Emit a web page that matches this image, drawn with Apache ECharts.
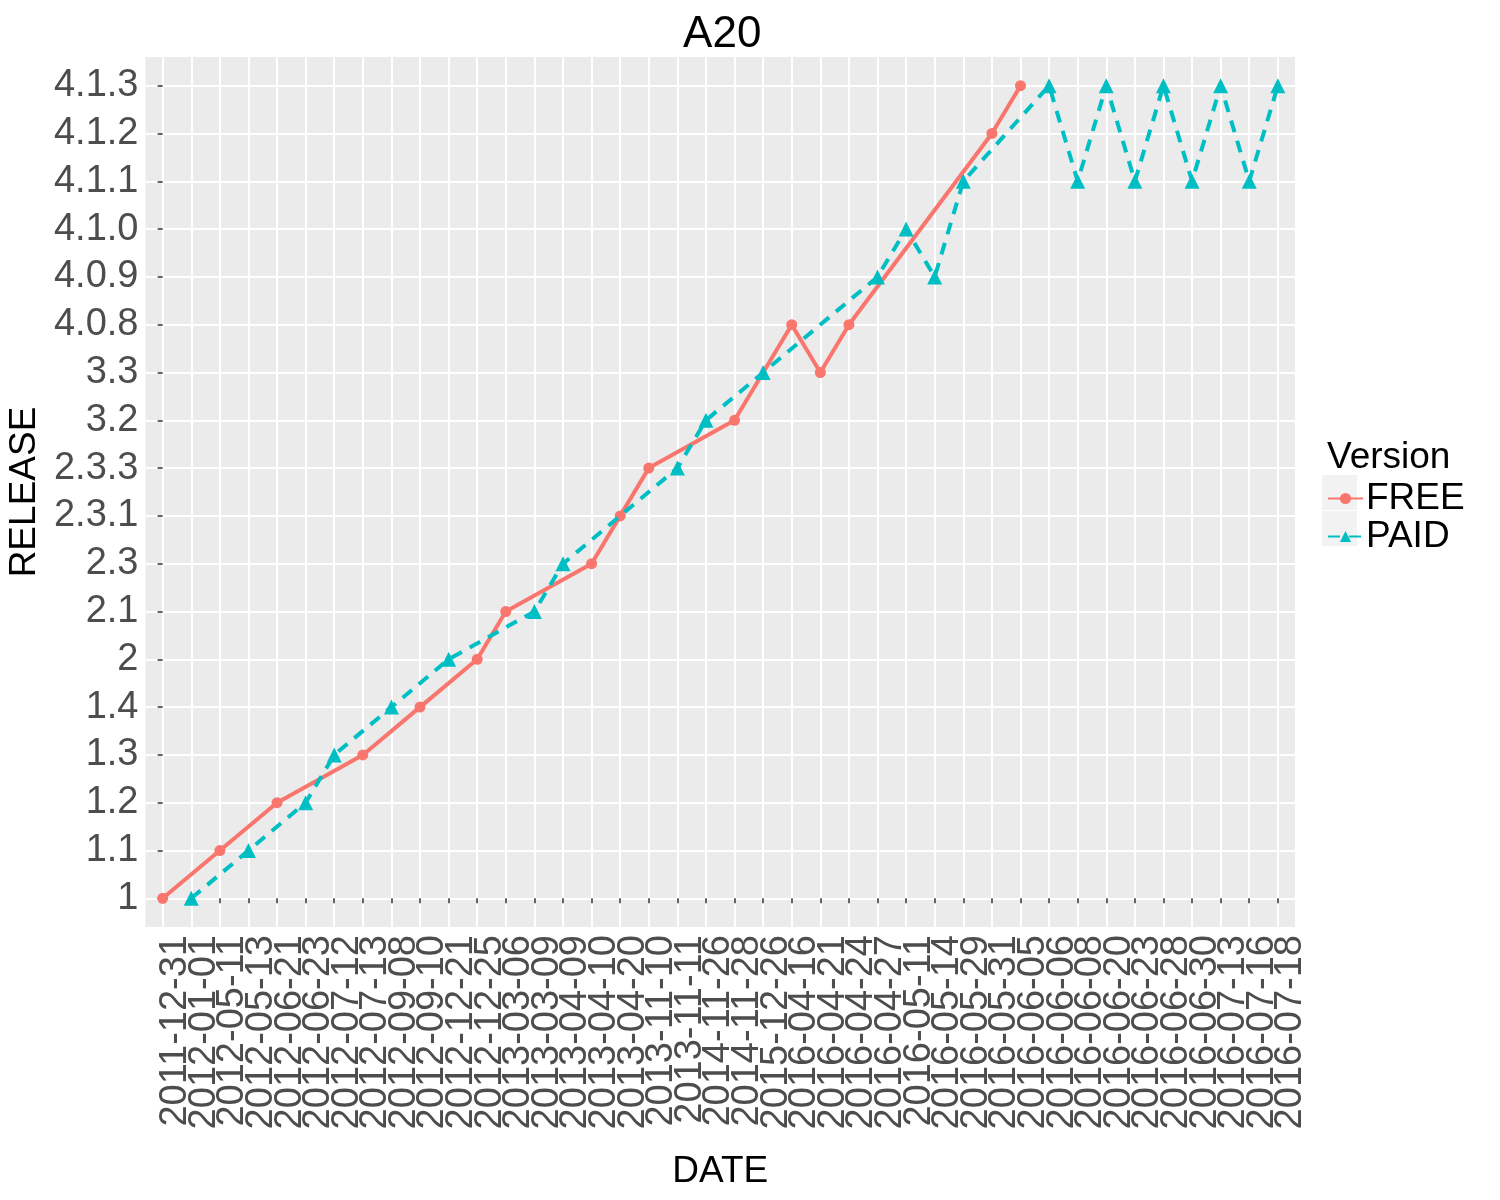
<!DOCTYPE html>
<html>
<head>
<meta charset="utf-8">
<script src="https://cdn.jsdelivr.net/npm/echarts@6/dist/echarts.min.js"></script>
<style>html,body{margin:0;padding:0;background:#fff;}#c{width:1500px;height:1200px;}</style>
</head>
<body>
<div id="c"></div>
<script>
const dates = ['2011-12-31','2012-01-01','2012-05-11','2012-05-13','2012-06-21','2012-06-23','2012-07-12','2012-07-13','2012-09-08','2012-09-10','2012-12-21','2012-12-25','2013-03-06','2013-03-09','2013-04-09','2013-04-10','2013-04-20','2013-11-10','2013-11-11','2014-11-26','2014-11-28','2015-12-26','2016-04-16','2016-04-21','2016-04-24','2016-04-27','2016-05-11','2016-05-14','2016-05-29','2016-05-31','2016-06-05','2016-06-06','2016-06-08','2016-06-20','2016-06-23','2016-06-28','2016-06-30','2016-07-13','2016-07-16','2016-07-18'];
const releases = ['1','1.1','1.2','1.3','1.4','2','2.1','2.3','2.3.1','2.3.3','3.2','3.3','4.0.8','4.0.9','4.1.0','4.1.1','4.1.2','4.1.3'];

const freeDates = ['2011-12-31','2012-05-11','2012-06-21','2012-07-13','2012-09-10','2012-12-25','2013-03-06','2013-04-10','2013-04-20','2013-11-10','2014-11-28','2016-04-16','2016-04-21','2016-04-24','2016-05-31','2016-06-05'];
const freeReleases = ['1','1.1','1.2','1.3','1.4','2','2.1','2.3','2.3.1','2.3.3','3.2','4.0.8','3.3','4.0.8','4.1.2','4.1.3'];

const paidDates = ['2012-01-01','2012-05-13','2012-06-23','2012-07-12','2012-09-08','2012-12-21','2013-03-09','2013-04-09','2013-11-11','2014-11-26','2015-12-26','2016-04-27','2016-05-11','2016-05-14','2016-05-29','2016-06-06','2016-06-08','2016-06-20','2016-06-23','2016-06-28','2016-06-30','2016-07-13','2016-07-16','2016-07-18'];
const paidReleases = ['1','1.1','1.2','1.3','1.4','2','2.1','2.3','2.3.3','3.2','3.3','4.0.9','4.1.0','4.0.9','4.1.1','4.1.3','4.1.1','4.1.3','4.1.1','4.1.3','4.1.1','4.1.3','4.1.1','4.1.3'];

const FONT = 'Liberation Sans, Arial, Helvetica, sans-serif';
const PAD = 0.6;
const pL = 145.5, pR = 1295, pT = 57, pB = 927;
const stepX = (pR - pL) / (dates.length - 1 + 2 * PAD);

const xIdx = dates.map((d, i) => i);
const yIdx = releases.map((r, i) => i);

const chart = echarts.init(document.getElementById('c'), null, {renderer: 'canvas'});
chart.setOption({
  backgroundColor: '#ffffff',
  animation: false,
  textStyle: {fontFamily: FONT},
  title: [
    {text: 'A20', left: (pL + pR) / 2 - 3, top: 8, textAlign: 'center',
     textStyle: {fontFamily: FONT, fontSize: 44, fontWeight: 'normal', color: '#000'}},
    {text: 'Version', left: 1322, top: 434,
     textStyle: {fontFamily: FONT, fontSize: 37, fontWeight: 'normal', color: '#000'}}
  ],
  graphic: {elements: [
    {type: 'rect', z: -100, silent: true, shape: {x: 1322, y: 475, width: 35, height: 35}, style: {fill: '#F2F2F2'}},
    {type: 'rect', z: -100, silent: true, shape: {x: 1322, y: 511, width: 35, height: 35}, style: {fill: '#F2F2F2'}}
  ]},
  legend: {
    orient: 'vertical', left: 1322, top: 475,
    itemWidth: 35, itemHeight: 14, itemGap: 1,
    data: ['FREE', 'PAID'],
    textStyle: {fontFamily: FONT, fontSize: 37, color: '#000', lineHeight: 35, padding: [0, 0, 0, -2]}
  },
  grid: [
    {left: pL, top: pT, width: pR - pL, height: pB - pT, containLabel: false, outerBoundsMode: 'none',
     show: true, backgroundColor: '#EBEBEB', borderWidth: 0},
    {left: pL + PAD * stepX, top: pT, width: (dates.length - 1) * stepX, height: pB - pT,
     containLabel: false, outerBoundsMode: 'none', show: false}
  ],
  xAxis: [
    {
      type: 'value', gridIndex: 0, min: -PAD, max: dates.length - 1 + PAD,
      axisLine: {show: false},
      axisTick: {show: true, length: 5, customValues: xIdx, lineStyle: {color: '#333333', width: 1.5}},
      axisLabel: {show: false},
      splitLine: {show: true, lineStyle: {color: '#ffffff', width: 2}}
    },
    {
      type: 'category', gridIndex: 1, data: dates, boundaryGap: false,
      name: 'DATE', nameLocation: 'middle', nameGap: 226,
      nameTextStyle: {fontFamily: FONT, fontSize: 37, color: '#000'},
      axisLine: {show: false}, axisTick: {show: false}, splitLine: {show: false},
      axisLabel: {interval: 0, rotate: 90, margin: 8, fontFamily: FONT, fontSize: 38, lineHeight: 26,
                  color: '#4D4D4D', verticalAlign: 'top'}
    }
  ],
  yAxis: [
    {
      type: 'value', gridIndex: 0, min: -PAD, max: releases.length - 1 + PAD,
      name: 'RELEASE', nameLocation: 'middle', nameGap: 82, nameRotate: 90,
      nameTextStyle: {fontFamily: FONT, fontSize: 37, color: '#000'},
      axisLine: {show: false},
      axisTick: {show: true, length: 5, customValues: yIdx, lineStyle: {color: '#333333', width: 1.5}},
      axisLabel: {customValues: yIdx, margin: 7, fontFamily: FONT, fontSize: 38, color: '#4D4D4D',
                  hideOverlap: false, showMinLabel: true, showMaxLabel: true,
                  formatter: v => releases[v]},
      splitLine: {show: true, lineStyle: {color: '#ffffff', width: 2}}
    },
    {type: 'value', gridIndex: 1, show: false}
  ],
  series: [
    {
      name: 'FREE', type: 'line', xAxisIndex: 0, yAxisIndex: 0,
      data: freeDates.map((d, i) => [dates.indexOf(d), releases.indexOf(freeReleases[i])]),
      symbol: 'circle', symbolSize: 11,
      lineStyle: {color: '#F8766D', width: 4},
      itemStyle: {color: '#F8766D'},
      z: 2
    },
    {
      name: 'PAID', type: 'line', xAxisIndex: 0, yAxisIndex: 0,
      data: paidDates.map((d, i) => [dates.indexOf(d), releases.indexOf(paidReleases[i])]),
      symbol: 'triangle', symbolSize: 15,
      lineStyle: {color: '#00BFC4', width: 4, type: [12, 9]},
      itemStyle: {color: '#00BFC4'},
      z: 3
    }
  ]
});
</script>
</body>
</html>
